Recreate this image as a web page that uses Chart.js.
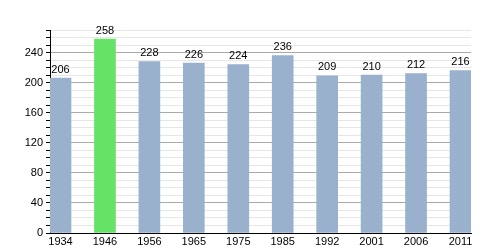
<!DOCTYPE html>
<html>
<head>
<meta charset="utf-8">
<script src="https://cdn.jsdelivr.net/npm/chart.js@4"></script>
<style>
  html, body { margin: 0; padding: 0; background: #fff; }
  #wrap { width: 500px; height: 250px; }
</style>
</head>
<body>
<div id="wrap"><canvas id="chart"></canvas></div>
<script>
// data
const years = ['1934', '1946', '1956', '1965', '1975', '1985', '1992', '2001', '2006', '2011'];
const population = [206, 258, 228, 226, 224, 236, 209, 210, 212, 216];
const highlight = '1946';

const BLUE = '#9ab1cd';
const GREEN = '#66e266';

// text above each bar
const valueLabels = {
  id: 'valueLabels',
  afterDatasetsDraw(chart) {
    const ctx = chart.ctx;
    const meta = chart.getDatasetMeta(0);
    ctx.save();
    ctx.font = '11px "Liberation Sans", Arial, sans-serif';
    ctx.fillStyle = '#000';
    ctx.textAlign = 'center';
    ctx.textBaseline = 'bottom';
    meta.data.forEach((bar, i) => {
      ctx.fillText(String(population[i]), bar.x, bar.y - 3);
    });
    ctx.restore();
  }
};

new Chart(document.getElementById('chart'), {
  type: 'bar',
  data: {
    datasets: [{
      data: years.map((y, i) => ({ x: i, y: population[i] })),
      backgroundColor: years.map(y => y === highlight ? GREEN : BLUE),
      barThickness: 21,
      borderWidth: 0
    }]
  },
  options: {
    responsive: true,
    maintainAspectRatio: false,
    animation: false,
    layout: { padding: { top: 30, right: 29, left: 0, bottom: 0 } },
    plugins: { legend: { display: false }, tooltip: { enabled: false } },
    scales: {
      x: {
        type: 'linear',
        offset: false,
        min: -0.2363,
        max: 9.2363,
        grid: { display: false, drawTicks: false },
        border: { display: true, color: '#000', width: 1 },
        ticks: {
          stepSize: 1,
          includeBounds: false,
          autoSkip: false,
          maxRotation: 0,
          padding: 2,
          color: '#000',
          font: { family: '"Liberation Sans", Arial, sans-serif', size: 11 },
          callback: v => years[v] ?? ''
        },
        afterFit: s => { s.height = 17; }
      },
      y: {
        min: 0,
        max: 270,
        grid: {
          color: c => (c.tick && c.tick.value % 40 === 0 && c.tick.value !== 0) ? '#aaaaaa' : '#e6e6e6',
          tickColor: '#000',
          tickLength: 4,
          lineWidth: 1
        },
        border: { display: true, color: '#000', width: 1 },
        ticks: {
          stepSize: 10,
          autoSkip: false,
          padding: 3,
          color: '#000',
          font: { family: '"Liberation Sans", Arial, sans-serif', size: 11 },
          callback: v => (v % 40 === 0 && v <= 240) ? String(v) : ''
        },
        afterFit: s => { s.width = 50; }
      }
    }
  },
  plugins: [valueLabels]
});
</script>
</body>
</html>
